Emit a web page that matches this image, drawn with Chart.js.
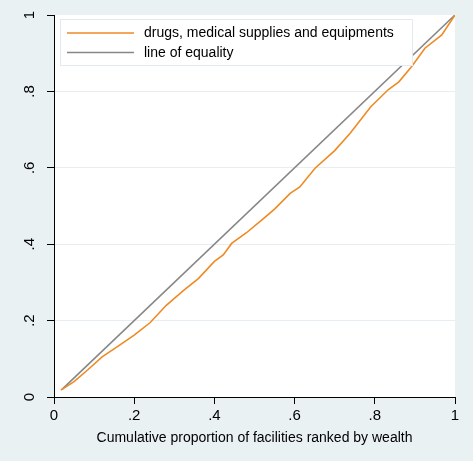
<!DOCTYPE html>
<html>
<head>
<meta charset="utf-8">
<script src="https://cdn.jsdelivr.net/npm/chart.js@4"></script>
<style>
  html, body { margin: 0; padding: 0; background: #eaf1f3; }
  canvas { display: block; }
</style>
</head>
<body>
<canvas id="lorenz" width="473" height="461"></canvas>
<script>
// concentration curve vs line of equality

const drugsX = [0.017, 0.05, 0.083, 0.12, 0.16, 0.20, 0.24, 0.28, 0.324, 0.36, 0.40, 0.422, 0.443, 0.48, 0.52, 0.55, 0.589, 0.613, 0.651, 0.70, 0.738, 0.79, 0.834, 0.86, 0.892, 0.925, 0.967, 1.0];
const drugsY = [0.018, 0.04, 0.07, 0.105, 0.133, 0.162, 0.195, 0.24, 0.28, 0.31, 0.355, 0.372, 0.402, 0.43, 0.465, 0.492, 0.533, 0.55, 0.599, 0.645, 0.690, 0.76, 0.805, 0.825, 0.865, 0.913, 0.948, 1.0];
const equalityX = [0.02, 1.0];
const equalityY = [0.02, 1.0];

const tickValues = [0, 0.2, 0.4, 0.6, 0.8, 1];
const tickLabels = ['0', '.2', '.4', '.6', '.8', '1'];

const seriesLabels = ['drugs, medical supplies and equipments', 'line of equality'];
const xTitle = 'Cumulative proportion of facilities ranked by wealth';

const FONT = '"Liberation Sans", Arial, Helvetica, sans-serif';

function toPoints(xs, ys) {
    return xs.map((x, i) => ({ x: x, y: ys[i] }));
}

function labelFor(v) {
    const idx = tickValues.indexOf(Math.round(v * 10) / 10);
    return idx >= 0 ? tickLabels[idx] : '';
}

const stataLook = {
    id: 'stataLook',
    beforeDraw(chart) {
        const { ctx, chartArea } = chart;
        ctx.save();
        ctx.fillStyle = '#eaf1f3';
        ctx.fillRect(0, 0, chart.width, chart.height);
        ctx.fillStyle = '#ffffff';
        ctx.fillRect(chartArea.left, chartArea.top, chartArea.right - chartArea.left, chartArea.bottom - chartArea.top);
        ctx.restore();
    },
    afterDatasetsDraw(chart) {
        // legend box inside the plot
        const ctx = chart.ctx;
        const area = chart.chartArea;
        const bx = area.left + 6, by = area.top + 4, bw = 353, bh = 47;
        ctx.save();
        ctx.fillStyle = '#ffffff';
        ctx.fillRect(bx, by, bw, bh);
        ctx.strokeStyle = '#e3eaee';
        ctx.lineWidth = 1;
        ctx.strokeRect(bx + 0.5, by + 0.5, bw - 1, bh - 1);
        ctx.font = '14px ' + FONT;
        ctx.textBaseline = 'middle';
        chart.data.datasets.forEach((ds, i) => {
            const ly = by + 14 + i * 19.5;
            ctx.strokeStyle = ds.borderColor;
            ctx.lineWidth = ds.borderWidth;
            ctx.beginPath();
            ctx.moveTo(bx + 7, ly);
            ctx.lineTo(bx + 74, ly);
            ctx.stroke();
            ctx.fillStyle = '#000';
            ctx.fillText(ds.label, bx + 84, ly + 0.5);
        });
        ctx.restore();
    },
    afterDraw(chart) {
        // rotated y tick labels
        const ctx = chart.ctx;
        const yScale = chart.scales.y;
        ctx.save();
        ctx.font = '15px ' + FONT;
        ctx.fillStyle = '#000';
        ctx.textAlign = 'center';
        ctx.textBaseline = 'middle';
        tickValues.forEach((v, i) => {
            const py = yScale.getPixelForValue(v);
            ctx.save();
            ctx.translate(30, py);
            ctx.rotate(-Math.PI / 2);
            ctx.fillText(tickLabels[i], 0, 0);
            ctx.restore();
        });
        ctx.restore();
    }
};

new Chart(document.getElementById('lorenz').getContext('2d'), {
    type: 'scatter',
    data: {
        datasets: [
            {
                label: seriesLabels[0],
                data: toPoints(drugsX, drugsY),
                showLine: true,
                borderColor: '#ef8a23',
                borderWidth: 1.6,
                pointRadius: 0,
                tension: 0
            },
            {
                label: seriesLabels[1],
                data: toPoints(equalityX, equalityY),
                showLine: true,
                borderColor: '#878787',
                borderWidth: 1.6,
                pointRadius: 0
            }
        ]
    },
    options: {
        responsive: false,
        animation: false,
        layout: { padding: { top: 15, right: 18, left: 0, bottom: 0 } },
        plugins: {
            legend: { display: false },
            tooltip: { enabled: false }
        },
        scales: {
            x: {
                type: 'linear',
                min: 0,
                max: 1,
                afterFit(scale) { scale.height = 64; },
                ticks: {
                    stepSize: 0.2,
                    padding: 3,
                    color: '#000',
                    font: { family: FONT, size: 15 },
                    maxRotation: 0,
                    callback: v => labelFor(v)
                },
                grid: {
                    drawOnChartArea: false,
                    tickColor: '#000',
                    tickLength: 7,
                    tickWidth: 1
                },
                border: { color: '#000', width: 1 },
                title: {
                    display: true,
                    text: xTitle,
                    color: '#000',
                    font: { family: FONT, size: 14 },
                    padding: { top: 0, bottom: 14 }
                }
            },
            y: {
                type: 'linear',
                min: 0,
                max: 1,
                afterFit(scale) { scale.width = 54; },
                ticks: {
                    stepSize: 0.2,
                    display: false
                },
                grid: {
                    color: ctx => (ctx.tick && ctx.tick.value > 0.01 && ctx.tick.value < 0.99) ? '#e6eef1' : 'rgba(0,0,0,0)',
                    tickColor: '#000',
                    tickLength: 7,
                    tickWidth: 1
                },
                border: { color: '#000', width: 1 }
            }
        }
    },
    plugins: [stataLook]
});
</script>
</body>
</html>
